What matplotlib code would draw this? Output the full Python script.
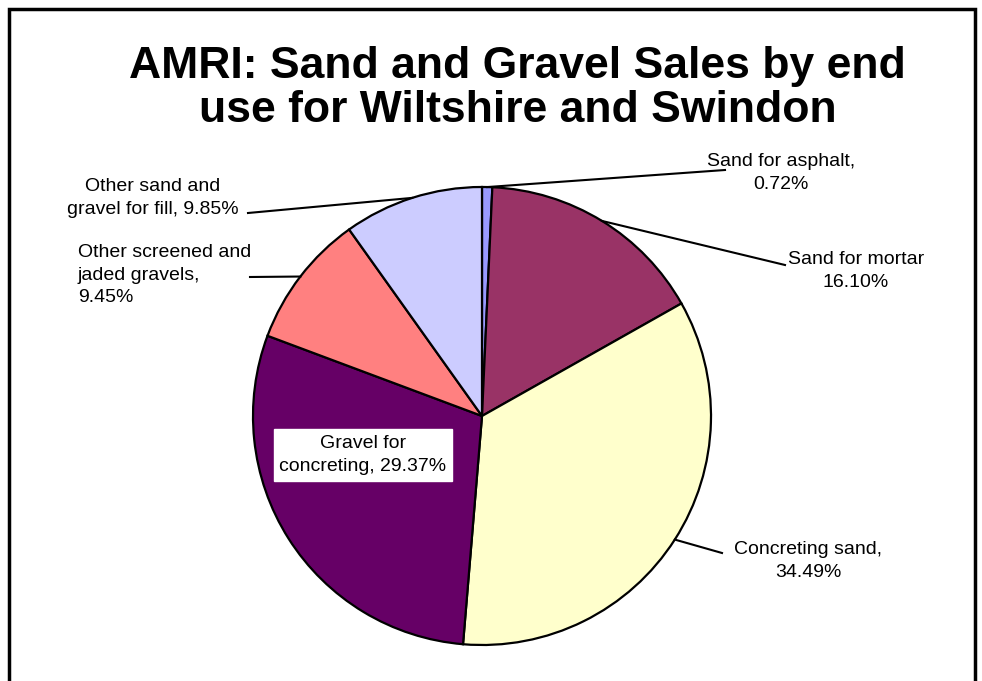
import numpy as np
import matplotlib.pyplot as plt

plt.rcParams['font.family'] = ['Liberation Sans', 'DejaVu Sans']

# data
categories = [
    "Sand for asphalt",
    "Sand for mortar",
    "Concreting sand",
    "Gravel for concreting",
    "Other screened and jaded gravels",
    "Other sand and gravel for fill",
]
shares = [0.72, 16.10, 34.49, 29.37, 9.45, 9.85]
colors = ["#9999FF", "#993366", "#FFFFCC", "#660066", "#FF8080", "#CCCCFF"]
label_texts = [
    "Sand for asphalt,\n0.72%",
    "Sand for mortar\n16.10%",
    "Concreting sand,\n34.49%",
    "Gravel for\nconcreting, 29.37%",
    "Other screened and\njaded gravels,\n9.45%",
    "Other sand and\ngravel for fill, 9.85%",
]

W, H = 982, 681
fig = plt.figure(figsize=(W / 100, H / 100), dpi=100)
ax = fig.add_axes([0, 0, 1, 1])

# chart frame (bottom cut off like the source image)
ax.plot([9, 9, 975, 975], [0, 672, 672, 0], color="black", lw=2.5,
        solid_joinstyle="miter")

fig.text(0.527, 0.870, "AMRI: Sand and Gravel Sales by end\nuse for Wiltshire and Swindon",
         ha="center", va="center", fontsize=32, fontweight="bold",
         linespacing=1.12)

cx, cy, r = 482, 265, 229
wedges, _ = ax.pie(shares, colors=colors, startangle=90, counterclock=False,
                   center=(cx, cy), radius=r, frame=True,
                   wedgeprops=dict(edgecolor="black", linewidth=1.6))
ax.set_xlim(0, W)
ax.set_ylim(0, H)
ax.set_aspect("equal")
ax.axis("off")

# label placement in pixel coordinates (y from top) and leader end point
layout = [
    dict(xy=(781, 173), ha="center", lead=(725, 170)),
    dict(xy=(856, 271), ha="center", lead=(785, 265)),
    dict(xy=(808, 561), ha="center", lead=(722, 553)),
    None,
    dict(xy=(78, 275), ha="left", lead=(250, 277)),
    dict(xy=(153, 198), ha="center", lead=(248, 213)),
]

for w, txt, lay in zip(wedges, label_texts, layout):
    mid = np.deg2rad((w.theta1 + w.theta2) / 2)
    ex, ey = cx + r * np.cos(mid), cy + r * np.sin(mid)
    if lay is None:
        ax.text(363, H - 455, txt, ha="center", va="center", fontsize=14,
                linespacing=1.45,
                bbox=dict(boxstyle="square,pad=0.3", fc="white", ec="white"))
        continue
    lx, ly = lay["lead"]
    ax.plot([ex, lx], [ey, H - ly], color="black", lw=1.5)
    tx, ty = lay["xy"]
    ax.text(tx, H - ty, txt, ha=lay["ha"], va="center", fontsize=14,
            linespacing=1.45, multialignment=lay["ha"])

fig.savefig("out.png", dpi=100)
